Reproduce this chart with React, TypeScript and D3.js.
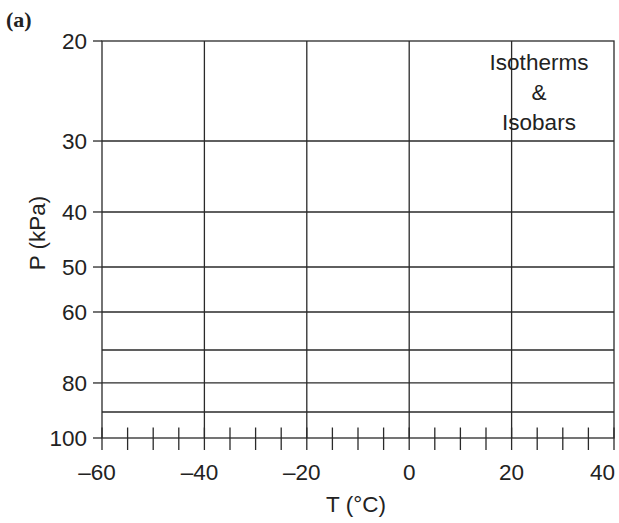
import React from "react";
import * as d3 from "d3";

// Isotherms (vertical grid, °C) and isobars (horizontal grid, kPa)
const isotherms = [-40, -20, 0, 20];
const isobars = [30, 40, 50, 60, 70, 80, 90];
const pLabels = [20, 30, 40, 50, 60, 80, 100];
const tLabels = [-60, -40, -20, 0, 20, 40];
const tMinorTicks = d3.range(-60, 41, 5);

const App = () => {
  const width = 619;
  const height = 523;
  const margin = { top: 41, right: 5, bottom: 85, left: 102 };

  const x = d3.scaleLinear().domain([-60, 40]).range([margin.left, width - margin.right]);
  const y = d3.scaleLog().domain([20, 100]).range([margin.top, height - margin.bottom]);

  const stroke = "#2a2a2a";
  const font = "Liberation Sans, Arial, sans-serif";
  const fs = 22.5;
  const fmt = (v: number) => (v < 0 ? "\u2013" + Math.abs(v) : String(v));

  return (
    <svg width={width} height={height} style={{ position: "absolute", left: 0, top: 0 }}>
      <text x={6} y={27} fontFamily="Liberation Serif, serif" fontWeight="bold" fontSize={22} fill="#222">
        (a)
      </text>

      {/* plot frame */}
      <rect
        x={x(-60)}
        y={y(20)}
        width={x(40) - x(-60)}
        height={y(100) - y(20)}
        fill="none"
        stroke={stroke}
        strokeWidth={1.3}
      />

      {isotherms.map((t) => (
        <line key={"t" + t} x1={x(t)} x2={x(t)} y1={y(20)} y2={y(100)} stroke={stroke} strokeWidth={1.3} />
      ))}
      {isobars.map((p) => (
        <line key={"p" + p} x1={x(-60)} x2={x(40)} y1={y(p)} y2={y(p)} stroke={stroke} strokeWidth={1.3} />
      ))}

      {/* y ticks and labels */}
      {pLabels.map((p) => (
        <g key={"pl" + p}>
          <line x1={x(-60) - 9} x2={x(-60)} y1={y(p)} y2={y(p)} stroke={stroke} strokeWidth={1.3} />
          <text
            x={x(-60) - 15}
            y={y(p)}
            dy="0.36em"
            textAnchor="end"
            fontFamily={font}
            fontSize={fs}
            fill="#222"
          >
            {p}
          </text>
        </g>
      ))}

      {/* x ticks crossing the bottom axis */}
      {tMinorTicks.map((t) => (
        <line
          key={"tk" + t}
          x1={x(t)}
          x2={x(t)}
          y1={y(100) - 10.5}
          y2={y(100) + 12}
          stroke={stroke}
          strokeWidth={1.3}
        />
      ))}
      {tLabels.map((t, i) => (
        <text
          key={"tl" + t}
          x={i === tLabels.length - 1 ? width - 4 : x(t) - (t < 0 ? 5 : 0)}
          y={y(100) + 42}
          textAnchor={i === tLabels.length - 1 ? "end" : "middle"}
          fontFamily={font}
          fontSize={fs}
          fill="#222"
        >
          {fmt(t)}
        </text>
      ))}

      <text
        x={(x(-60) + x(40)) / 2 - 2}
        y={512}
        textAnchor="middle"
        fontFamily={font}
        fontSize={fs}
        fill="#222"
      >
        T (°C)
      </text>
      <text
        transform={`translate(45,233) rotate(-90)`}
        textAnchor="middle"
        fontFamily={font}
        fontSize={fs}
        fill="#222"
      >
        P (kPa)
      </text>

      <g fontFamily={font} fontSize={fs} fill="#222" textAnchor="middle">
        <text x={539} y={70}>Isotherms</text>
        <text x={539} y={100}>&amp;</text>
        <text x={539} y={130}>Isobars</text>
      </g>
    </svg>
  );
};

export default App;
